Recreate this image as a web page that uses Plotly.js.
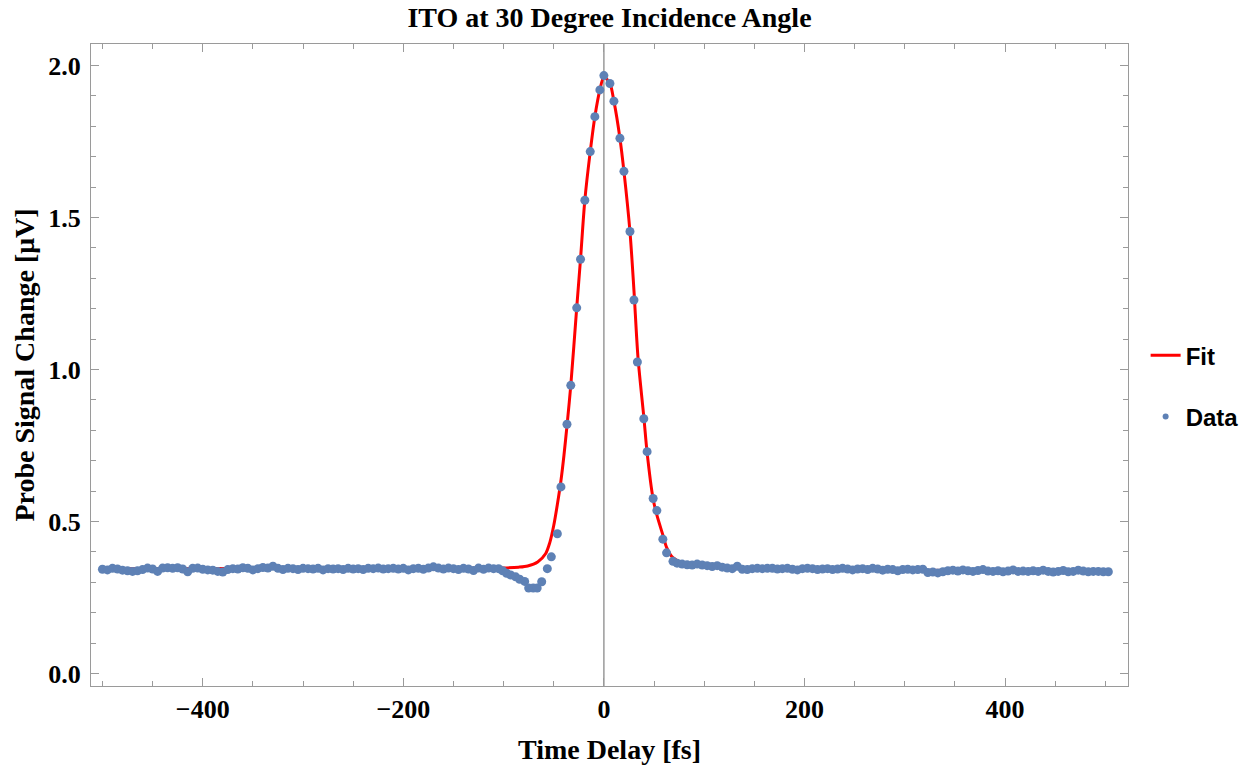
<!DOCTYPE html>
<html>
<head>
<meta charset="utf-8">
<script src="https://cdn.plot.ly/plotly-3.0.1.min.js"></script>
<style>html,body{margin:0;padding:0;background:#fff;}#chart{width:1256px;height:769px;}</style>
</head>
<body>
<div id="chart"></div>
<script>
// Fit curve
const fitX = [-500, -150, -110, -100, -85, -76, -66, -58, -54, -50, -46.4, -42.8, -39.8, -36.8, -33, -27.1, -23.3, -19, -13.6, -9, -4, 0, 6, 10, 16, 20, 26, 30, 34, 40, 43, 49, 52.8, 58.8, 62.5, 68.5, 77, 90, 105, 150, 300, 500];
const fitY = [0.345, 0.346, 0.346, 0.347, 0.350, 0.354, 0.367, 0.395, 0.430, 0.487, 0.556, 0.635, 0.718, 0.815, 0.948, 1.203, 1.363, 1.557, 1.717, 1.832, 1.920, 1.962, 1.941, 1.883, 1.761, 1.652, 1.454, 1.260, 1.040, 0.838, 0.730, 0.576, 0.522, 0.456, 0.415, 0.382, 0.366, 0.356, 0.351, 0.346, 0.340, 0.336];

// Measured data points
const dataX = [
  -500, -495, -490, -485, -480, -475, -470, -465, -460, -455,
  -450, -445, -440, -435, -430, -425, -420, -415, -410, -405,
  -400, -395, -390, -385, -380, -375, -370, -365, -360, -355,
  -350, -345, -340, -335, -330, -325, -320, -315, -310, -305,
  -300, -295, -290, -285, -280, -275, -270, -265, -260, -255,
  -250, -245, -240, -235, -230, -225, -220, -215, -210, -205,
  -200, -195, -190, -185, -180, -175, -170, -165, -160, -155,
  -150, -145, -140, -135, -130, -125, -120, -115, -110, -105,
  -101, -97, -93, -88, -84, -79, -75, -70.5, -66.5, -62,
  -56.4, -52.4, -46.4, -42.8, -36.8, -33, -27.1, -23.3, -19, -13.6,
  -9, -4, 0, 6, 10, 16, 20, 26, 30, 33.4,
  39.8, 43.1, 49.1, 52.8, 58.8, 62.5, 68.9, 73,
  78, 83, 88, 93, 98, 103, 108, 113, 118, 123,
  128, 133, 138, 143, 148, 153, 158, 163, 168, 173,
  178, 183, 188, 193, 198, 203, 208, 213, 218, 223,
  228, 233, 238, 243, 248, 253, 258, 263, 268, 273,
  278, 283, 288, 293, 298, 303, 308, 313, 318, 323,
  328, 333, 338, 343, 348, 353, 358, 363, 368, 373,
  378, 383, 388, 393, 398, 403, 408, 413, 418, 423,
  428, 433, 438, 443, 448, 453, 458, 463, 468, 473,
  478, 483, 488, 493, 498, 503
];
const dataY = [
  0.343, 0.341, 0.346, 0.344, 0.340, 0.338, 0.336, 0.338, 0.342, 0.347,
  0.344, 0.336, 0.347, 0.348, 0.346, 0.348, 0.344, 0.335, 0.346, 0.347,
  0.343, 0.341, 0.340, 0.336, 0.334, 0.342, 0.345, 0.344, 0.348, 0.346,
  0.341, 0.345, 0.349, 0.347, 0.353, 0.346, 0.342, 0.346, 0.345, 0.342,
  0.346, 0.345, 0.344, 0.346, 0.341, 0.345, 0.344, 0.345, 0.342, 0.346,
  0.344, 0.345, 0.342, 0.346, 0.345, 0.347, 0.344, 0.345, 0.346, 0.344,
  0.346, 0.341, 0.345, 0.346, 0.343, 0.347, 0.351, 0.347, 0.344, 0.347,
  0.345, 0.342, 0.346, 0.344, 0.339, 0.347, 0.343, 0.347, 0.345, 0.345,
  0.338, 0.330, 0.324, 0.318, 0.310, 0.303, 0.281, 0.281, 0.281, 0.302,
  0.345, 0.384, 0.460, 0.614, 0.820, 0.948, 1.203, 1.363, 1.557, 1.717,
  1.832, 1.920, 1.967, 1.941, 1.883, 1.761, 1.652, 1.454, 1.229, 1.025,
  0.838, 0.730, 0.576, 0.536, 0.442, 0.397, 0.369, 0.363,
  0.360, 0.358, 0.357, 0.360, 0.357, 0.355, 0.352, 0.355, 0.350, 0.347,
  0.345, 0.353, 0.343, 0.342, 0.345, 0.346, 0.345, 0.346, 0.346, 0.344,
  0.345, 0.346, 0.343, 0.341, 0.345, 0.346, 0.345, 0.342, 0.344, 0.345,
  0.342, 0.344, 0.346, 0.344, 0.341, 0.344, 0.345, 0.342, 0.346, 0.344,
  0.340, 0.343, 0.342, 0.338, 0.342, 0.343, 0.341, 0.342, 0.343, 0.332,
  0.334, 0.331, 0.335, 0.338, 0.340, 0.337, 0.341, 0.338, 0.336, 0.339,
  0.342, 0.337, 0.336, 0.338, 0.335, 0.337, 0.341, 0.336, 0.337, 0.336,
  0.338, 0.336, 0.340, 0.336, 0.334, 0.336, 0.339, 0.335, 0.336, 0.340,
  0.337, 0.335, 0.336, 0.336, 0.335, 0.335
];

const xTickVals = [-400, -200, 0, 200, 400];
const xTickText = ['\u2212400', '\u2212200', '0', '200', '400'];
const yTickVals = [0.0, 0.5, 1.0, 1.5, 2.0];
const yTickText = ['0.0', '0.5', '1.0', '1.5', '2.0'];

const dotColor = '#5E81B5';
const serif = {family: 'Liberation Serif, Times New Roman, serif', size: 26, color: '#000', weight: 'bold'};
const titleFont = Object.assign({}, serif, {size: 28});
const frameColor = '#9a9a9a';

const traces = [
  {x: fitX, y: fitY, type: 'scatter', mode: 'lines', name: 'Fit',
   line: {color: '#FF0000', width: 3, shape: 'spline', smoothing: 0.8},
   legendgroup: 'a', hoverinfo: 'skip'},
  {x: dataX, y: dataY, type: 'scatter', mode: 'markers', name: 'Data',
   marker: {color: dotColor, size: 9}, showlegend: false},
  {x: [null], y: [null], type: 'scatter', mode: 'markers', name: 'Data',
   marker: {color: dotColor, size: 6}, legendgroup: 'b'}
];

const axisCommon = {
  showline: true, linecolor: frameColor, linewidth: 1, mirror: 'allticks',
  ticks: 'inside', tickcolor: frameColor, tickwidth: 1, ticklen: 8,
  showgrid: false, zeroline: false, tickfont: serif, automargin: false
};

const layout = {
  width: 1256, height: 769,
  margin: {l: 91, r: 128, t: 44, b: 83},
  paper_bgcolor: '#fff', plot_bgcolor: '#fff',
  title: {text: 'ITO at 30 Degree Incidence Angle', font: titleFont,
          x: 0.5, xref: 'paper', y: 0.978, yref: 'container', yanchor: 'middle'},
  xaxis: Object.assign({}, axisCommon, {
    range: [-511.4, 522.6], tickmode: 'array', tickvals: xTickVals, ticktext: xTickText,
    minor: {dtick: 50, tick0: 0, ticks: 'inside', ticklen: 5, tickcolor: frameColor},
    title: {text: 'Time Delay [fs]', font: titleFont, standoff: 16}
  }),
  yaxis: Object.assign({}, axisCommon, {
    range: [-0.041, 2.071], tickmode: 'array', tickvals: yTickVals, ticktext: yTickText,
    minor: {dtick: 0.1, tick0: 0, ticks: 'inside', ticklen: 5, tickcolor: frameColor},
    ticklabelstandoff: 4,
    title: {text: 'Probe Signal Change [\u03bcV]', font: titleFont, standoff: 5}
  }),
  shapes: [
    {type: 'line', xref: 'x', yref: 'paper', x0: 0, x1: 0, y0: 0, y1: 1,
     line: {color: '#9a9a9a', width: 1.5}, layer: 'below'}
  ],
  legend: {x: 1.017, xanchor: 'left', y: 0.467, yanchor: 'middle',
           font: {family: 'Liberation Sans, Arial, sans-serif', size: 24, color: '#000', weight: 'bold'},
           tracegroupgap: 27, bgcolor: 'rgba(0,0,0,0)', borderwidth: 0},
  showlegend: true
};

Plotly.newPlot('chart', traces, layout, {displayModeBar: false, staticPlot: true});
</script>
</body>
</html>
